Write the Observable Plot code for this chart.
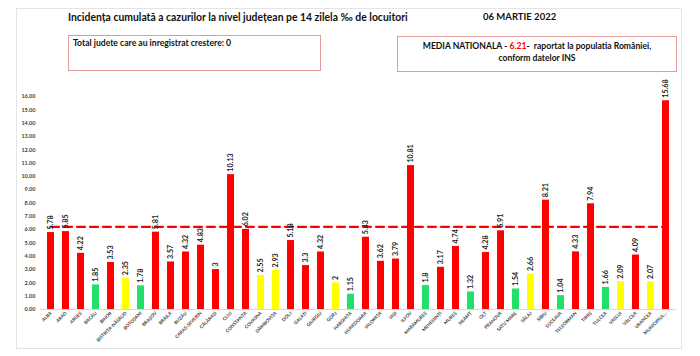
<!DOCTYPE html>
<html>
<head>
<meta charset="utf-8">
<script src="https://cdn.jsdelivr.net/npm/d3@7"></script>
<script src="https://cdn.jsdelivr.net/npm/@observablehq/plot@0.6"></script>
<style>
  html, body { margin: 0; padding: 0; background: #fff; }
  #wrap { position: relative; width: 700px; height: 356px; overflow: hidden; font-family: Lato, "Open Sans", sans-serif; }
  #frame { position: absolute; left: 16px; top: 8px; width: 666px; height: 341px; border: 1px solid #e4e4e4; box-sizing: border-box; }
  #title { position: absolute; left: 68px; top: 11px; font-size: 10.4px; font-weight: bold; color: #111; white-space: nowrap; }
  #date { position: absolute; left: 483px; top: 11px; font-size: 9.5px; font-weight: bold; color: #111; white-space: nowrap; }
  .box { position: absolute; border: 1px solid #e29a9a; box-sizing: border-box; font-size: 8.6px; font-weight: bold; color: #111; }
  #box1 { left: 68px; top: 35px; width: 253px; height: 36px; padding: 2px 4px; }
  #box2 { left: 397px; top: 36px; width: 280px; height: 36px; padding: 3px 2px; text-align: center; line-height: 12px; white-space: nowrap; }
  #chart { position: absolute; left: 0; top: 0; }
</style>
</head>
<body>
<div id="wrap">
  <div id="frame"></div>
  <div id="title">Incidența cumulată a cazurilor la nivel județean pe 14 zilela ‰ de locuitori</div>
  <div id="date">06 MARTIE 2022</div>
  <div class="box" id="box1">Total judete care au inregistrat crestere: 0</div>
  <div class="box" id="box2">MEDIA NATIONALA - <span style="color:#ff0000">6.21</span>-&nbsp; raportat la populatia României,<br>conform datelor INS</div>
  <div id="chart"></div>
</div>
<script>
const counties = ["ALBA","ARAD","ARGEȘ","BACĂU","BIHOR","BISTRIȚA-NĂSĂUD","BOTOȘANI","BRAȘOV","BRĂILA","BUZĂU",
  "CARAȘ-SEVERIN","CĂLĂRAȘI","CLUJ","CONSTANȚA","COVASNA","DÂMBOVIȚA","DOLJ","GALAȚI","GIURGIU","GORJ",
  "HARGHITA","HUNEDOARA","IALOMIȚA","IAȘI","ILFOV","MARAMUREȘ","MEHEDINȚI","MUREȘ","NEAMȚ","OLT",
  "PRAHOVA","SATU MARE","SĂLAJ","SIBIU","SUCEAVA","TELEORMAN","TIMIȘ","TULCEA","VASLUI","VÂLCEA",
  "VRANCEA","MUNICIPIUL..."];
const incidence = [5.78,5.85,4.22,1.85,3.53,2.35,1.78,5.81,3.57,4.32,
  4.83,3,10.13,6.02,2.55,2.93,5.18,3.3,4.32,2,
  1.15,5.43,3.62,3.79,10.81,1.8,3.17,4.74,1.32,4.28,
  5.91,1.54,2.66,8.21,1.04,4.33,7.94,1.66,2.09,4.09,
  2.07,15.68];
const nationalAverage = 6.21;
const yTicks = [0,1,2,3,4,5,6,7,8,9,10,11,12,13,14,15,16];
const colorThresholds = [2, 3];

const data = counties.map((name, i) => ({name, value: incidence[i]}));
const avgLine = [counties[0], counties[counties.length - 1]].map(name => ({name, value: nationalAverage}));

const chart = Plot.plot({
  width: 700,
  height: 356,
  marginTop: 96,
  marginBottom: 47,
  marginLeft: 40,
  marginRight: 24,
  style: {fontFamily: "Lato, 'Open Sans', sans-serif", background: "transparent"},
  x: {domain: counties, paddingInner: 0.53, paddingOuter: 0.3, label: null},
  y: {domain: [0, 16], label: null},
  color: {type: "threshold", domain: colorThresholds, range: ["#22e06b", "#ffff00", "#ff0000"]},
  marks: [
    Plot.axisY({ticks: yTicks, tickFormat: d => d.toFixed(2), tickSize: 0, tickPadding: 5, fontSize: 5.5, fontWeight: "bold", fill: "#404040", label: null}),
    Plot.axisX({tickSize: 0, tickRotate: -45, tickPadding: 3, fontSize: 4.6, fontWeight: "bold", fill: "#404040", label: null}),
    Plot.ruleY([0], {stroke: "#d9d9d9"}),
    Plot.barY(data, {x: "name", y: "value", fill: "value"}),
    Plot.lineY(avgLine, {x: "name", y: "value", stroke: "#ff0000", strokeWidth: 2.2, strokeDasharray: "8,5"}),
    Plot.text(data, {x: "name", y: "value", text: d => String(d.value), rotate: -90, textAnchor: "start", dy: -3, fontSize: 7.2, fontWeight: "bold", fill: "#222"})
  ]
});
document.getElementById("chart").appendChild(chart);
</script>
</body>
</html>
